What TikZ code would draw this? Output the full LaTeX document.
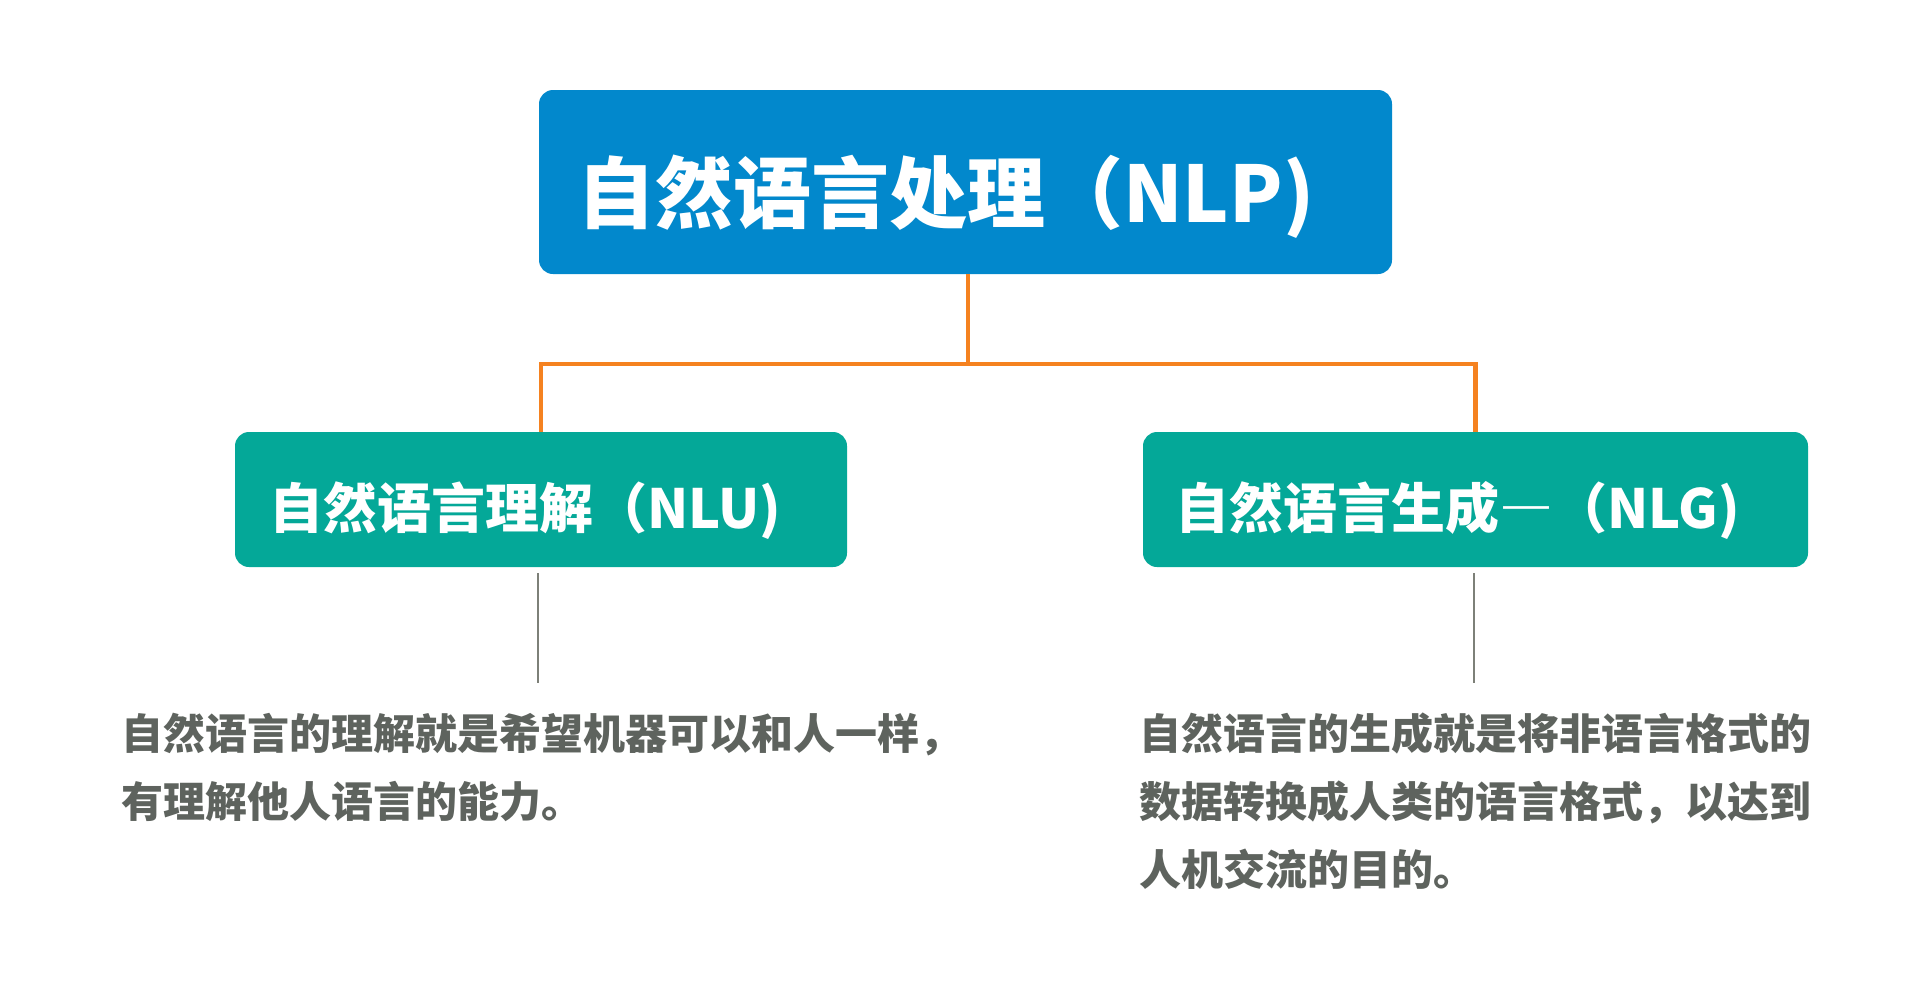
\documentclass[tikz,border=0pt]{standalone}
\usepackage{fontspec}
\setmainfont{Noto Sans CJK SC}
\definecolor{topblue}{RGB}{2,136,204}
\definecolor{subteal}{RGB}{4,168,152}
\definecolor{linkorange}{RGB}{245,130,32}
\definecolor{linegray}{RGB}{125,128,120}
\definecolor{descgray}{RGB}{94,99,94}
\tikzset{
  topbox/.style={fill=topblue, rounded corners=14pt, minimum width=853pt, minimum height=184pt, inner sep=0pt},
  subbox/.style={fill=subteal, rounded corners=14pt, minimum height=135pt, inner sep=0pt},
  toptitle/.style={text=white, font=\bfseries\fontsize{78}{90}\selectfont, anchor=base west, inner sep=0pt},
  subtitle/.style={text=white, font=\bfseries\fontsize{54}{64}\selectfont, anchor=base west, inner sep=0pt},
  desc/.style={text=descgray, font=\bfseries\fontsize{42}{68}\selectfont, anchor=north west, align=left, inner sep=0pt},
  orangelink/.style={draw=linkorange, line width=4.5pt},
  graylink/.style={draw=linegray, line width=2pt}
}
\begin{document}
\begin{tikzpicture}[x=1pt, y=-1pt]
\useasboundingbox[fill=white] (0,0) rectangle (1932,996);
% boxes
\node[topbox] (top) at (965.5,182) {};
\node[subbox, minimum width=612pt] (nlu) at (541,499.5) {};
\node[subbox, minimum width=665pt] (nlg) at (1475.5,499.5) {};
% titles
\node[toptitle] (toptext) at (577,222) {自然语言处理（NLP)};
\node[subtitle] (nlutext) at (269,528) {自然语言理解（NLU)};
\node[subtitle] (nlgtext) at (1175,528) {自然语言生成{\addfontfeature{RawFeature=+fwid}—}（NLG)};
% orange connectors
\coordinate (hub) at (968,364);
\draw[orangelink] (top.south -| hub) -- (hub);
\draw[orangelink] (nlu.north) |- (hub) -| (nlg.north);
% gray lines
\coordinate (nlutail) at (538,683);
\coordinate (nlgtail) at (1474,683);
\draw[graylink] (nlutail |- 0,573) -- (nlutail);
\draw[graylink] (nlgtail |- 0,573) -- (nlgtail);
% descriptions
\node[desc] (nludesc) at (121,713) {自然语言的理解就是希望机器可以和人一样，\\有理解他人语言的能力。};
\node[desc] (nlgdesc) at (1139,713) {自然语言的生成就是将非语言格式的\\数据转换成人类的语言格式，以达到\\人机交流的目的。};
\end{tikzpicture}
\end{document}
